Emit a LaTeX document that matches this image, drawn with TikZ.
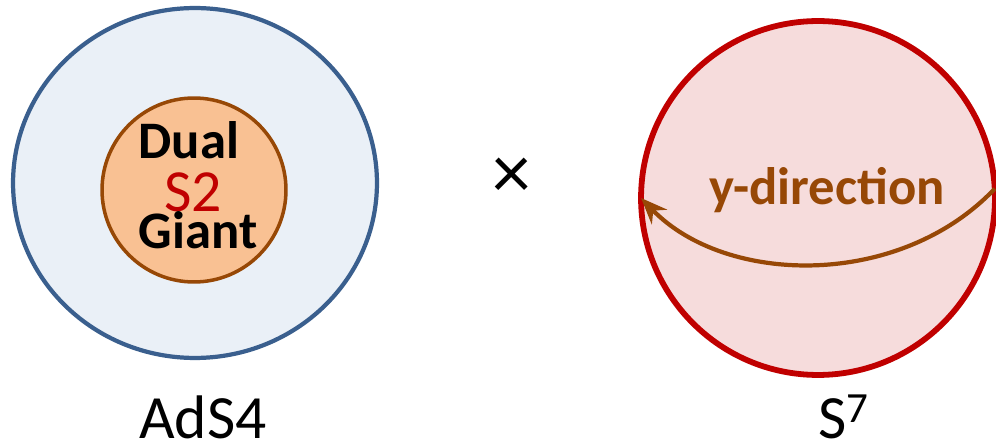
\documentclass[tikz,border=0pt]{standalone}
\usepackage{fontspec}
\setmainfont{Carlito}
\usetikzlibrary{shapes.geometric,arrows.meta}
\definecolor{adsblue}{HTML}{3A5F8E}
\definecolor{adsfill}{HTML}{EAF0F7}
\definecolor{giantbrown}{HTML}{974806}
\definecolor{giantfill}{HTML}{F9C193}
\definecolor{sphred}{HTML}{C00000}
\definecolor{sphfill}{HTML}{F6DCDC}
\begin{document}
\begin{tikzpicture}[x=0.02cm,y=0.02cm,
  bigtext/.style={font=\fontsize{35}{40}\selectfont,inner sep=0pt},
  boldtext/.style={font=\fontsize{30}{36}\selectfont\bfseries,inner sep=0pt}]
\useasboundingbox (0,0) rectangle (996,446);

\node[ellipse,draw=adsblue,fill=adsfill,line width=2.4pt,inner sep=0pt,outer sep=0pt,
  minimum width=7.28cm,minimum height=7cm] (ads) at (195,263) {};
\node[circle,draw=giantbrown,fill=giantfill,line width=2pt,inner sep=0pt,outer sep=0pt,
  minimum size=3.68cm] (giant) at (194,256) {};
\node[boldtext,anchor=base] (dual) at (189,287) {Dual};
\node[bigtext,anchor=base,text=sphred,font=\fontsize{34}{40}\selectfont] (s2) at (193,234) {S2};
\node[boldtext,anchor=base] (giantlbl) at (198,197) {Giant};

\node[bigtext,font=\fontsize{44}{50}\selectfont] (times) at (512,268) {×};

\node[circle,draw=sphred,fill=sphfill,line width=3.3pt,inner sep=0pt,outer sep=0pt,
  minimum size=7.08cm] (sph) at (818,248) {};
\node[boldtext,anchor=base,text=giantbrown] (ydir) at (827,241) {y-direction};
\draw[giantbrown,line width=2.4pt,-{Stealth[length=15pt,width=12pt,inset=5pt]}]
  (sph.3) .. controls +(-95,-100) and +(85,-88) .. (sph.180);

\node[bigtext,anchor=base] (adslbl) at (203,8) {AdS4};
\node[bigtext,anchor=base] (s7lbl) at (844,8) {S\textsuperscript{7}};
\end{tikzpicture}
\end{document}
